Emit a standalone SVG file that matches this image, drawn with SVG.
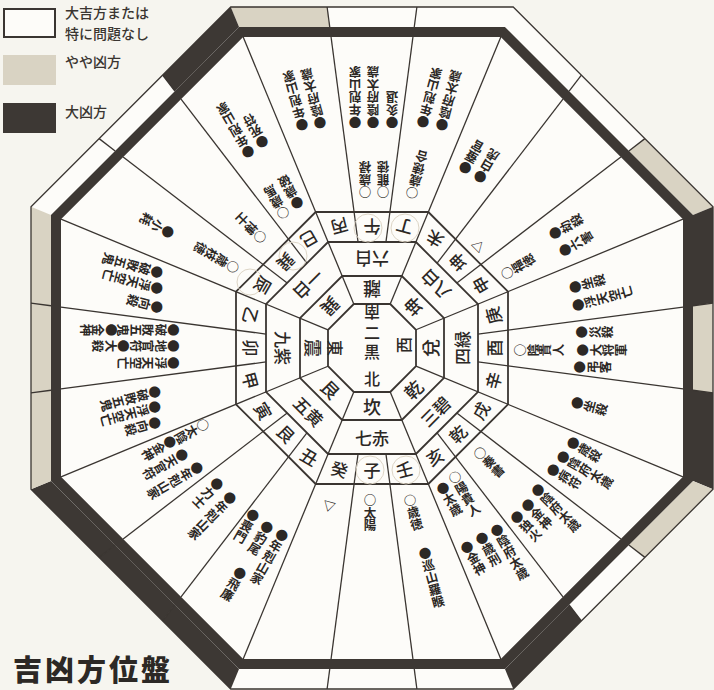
<svg xmlns="http://www.w3.org/2000/svg" xmlns:xlink="http://www.w3.org/1999/xlink" width="714" height="690" viewBox="0 0 714 690">
<defs>
<style>
.ln{fill:none;stroke:#3a3531;stroke-width:1.3}
.rg{fill:none;stroke:#3a3531;stroke-width:1.8}
.dk{fill:#3d3834}
.tn{fill:#d9d3c3}
.pc{fill:none;stroke:#ddd5c6;stroke-width:1}
.r{font-family:"Noto Sans CJK JP",sans-serif;font-weight:500;fill:#2c2825;text-anchor:middle;dominant-baseline:central}
.d{font-family:"Noto Sans CJK JP",sans-serif;font-weight:700;font-size:12.5px;fill:#2c2825;writing-mode:vertical-rl}
.lg{font-family:"Noto Sans CJK JP",sans-serif;font-weight:500;font-size:14px;fill:#3a3531}
</style>
<polygon id="sC" points="-42.26,321 42.26,321 44.89,341 -44.89,341"/>
<polygon id="sP" points="42.26,321 132.96,321 141.25,341 44.89,341"/>
<polygon id="sM" points="-42.26,321 -132.96,321 -141.25,341 -44.89,341"/>
<g id="rad">
<line x1="18.23" y1="44" x2="128.82" y2="311"/>
<line x1="13.96" y1="106" x2="40.94" y2="311"/>
<line x1="-13.96" y1="106" x2="-40.94" y2="311"/>
<line x1="42.26" y1="321" x2="44.89" y2="341"/>
<line x1="-42.26" y1="321" x2="-44.89" y2="341"/>
</g>
</defs>
<rect width="714" height="690" fill="#f6f5ef"/>
<g id="legend">
<rect x="4" y="9" width="51" height="28" fill="#fdfcf9" stroke="#3a3531" stroke-width="2"/>
<rect x="3" y="55" width="53" height="30" class="tn"/>
<rect x="3" y="103" width="53" height="30" class="dk"/>
<text class="lg" x="65" y="18">大吉方または</text>
<text class="lg" x="65" y="39">特に問題なし</text>
<text class="lg" x="65" y="67">やや凶方</text>
<text class="lg" x="65" y="117">大凶方</text>
</g>
<text x="13" y="681" font-family="Noto Sans CJK JP,sans-serif" font-weight="900" font-size="29" letter-spacing="3" fill="#2c2825">吉凶方位盤</text>
<g id="board" transform="translate(372,348)">
<polygon points="141.25,-341 341,-141.25 341,141.25 141.25,341 -141.25,341 -341,141.25 -341,-141.25 -141.25,-341" fill="#fdfcf9"/>
<g id="band">
<use xlink:href="#sP" class="tn" transform="rotate(180)"/>
<use xlink:href="#sM" class="tn" transform="rotate(-135)"/>
<use xlink:href="#sP" class="dk" transform="rotate(-90)"/>
<use xlink:href="#sC" class="tn" transform="rotate(-90)"/>
<use xlink:href="#sM" class="dk" transform="rotate(-90)"/>
<use xlink:href="#sP" class="tn" transform="rotate(-45)"/>
<use xlink:href="#sM" class="dk" transform="rotate(-45)"/>
<use xlink:href="#sP" class="dk" transform="rotate(45)"/>
<use xlink:href="#sC" class="dk" transform="rotate(45)"/>
<use xlink:href="#sM" class="dk" transform="rotate(45)"/>
<use xlink:href="#sP" class="tn" transform="rotate(90)"/>
<use xlink:href="#sC" class="tn" transform="rotate(90)"/>
<use xlink:href="#sM" class="tn" transform="rotate(90)"/>
<use xlink:href="#sM" class="dk" transform="rotate(135)"/>
<path class="dk" fill-rule="evenodd" d="M132.96,-321 L321,-132.96 L321,132.96 L132.96,321 L-132.96,321 L-321,132.96 L-321,-132.96 L-132.96,-321Z M128.82,-311 L311,-128.82 L311,128.82 L128.82,311 L-128.82,311 L-311,128.82 L-311,-128.82 L-128.82,-311Z"/>
</g>
<g id="connectors">
<polygon class="ln" points="141.25,-341 341,-141.25 341,141.25 141.25,341 -141.25,341 -341,141.25 -341,-141.25 -141.25,-341"/>
<polygon class="rg" points="56.33,-136 136,-56.33 136,56.33 56.33,136 -56.33,136 -136,56.33 -136,-56.33 -56.33,-136"/>
<polygon class="rg" points="43.91,-106 106,-43.91 106,43.91 43.91,106 -43.91,106 -106,43.91 -106,-43.91 -43.91,-106"/>
<polygon class="rg" points="29.82,-72 72,-29.82 72,29.82 29.82,72 -29.82,72 -72,29.82 -72,-29.82 -29.82,-72"/>
<polygon class="rg" points="18.23,-44 44,-18.23 44,18.23 18.23,44 -18.23,44 -44,18.23 -44,-18.23 -18.23,-44"/>
<use xlink:href="#rad" class="ln"/>
<use xlink:href="#rad" class="ln" transform="rotate(45)"/>
<use xlink:href="#rad" class="ln" transform="rotate(90)"/>
<use xlink:href="#rad" class="ln" transform="rotate(135)"/>
<use xlink:href="#rad" class="ln" transform="rotate(180)"/>
<use xlink:href="#rad" class="ln" transform="rotate(225)"/>
<use xlink:href="#rad" class="ln" transform="rotate(270)"/>
<use xlink:href="#rad" class="ln" transform="rotate(315)"/>
</g>
<g id="marks">
<circle class="pc" cx="-4" cy="-120" r="14"/>
<circle class="pc" cx="33" cy="-120" r="14"/>
<circle class="pc" cx="-2" cy="122" r="14"/>
<circle class="pc" cx="34" cy="122" r="14"/>
<circle class="pc" cx="-79" cy="-92" r="14"/>
<circle class="pc" cx="-122" cy="-66" r="13"/>
</g>
<g id="center">
<text class="r" font-size="16" transform="translate(0,-35) rotate(180)">南</text>
<text class="r" font-size="16" x="0" y="-4" letter-spacing="3" style="writing-mode:vertical-rl">二黒</text>
<text class="r" font-size="16" x="0" y="30">北</text>
<text class="r" font-size="16" transform="translate(-36,0) rotate(90)">東</text>
<text class="r" font-size="16" transform="translate(31,-3) rotate(-90)">西</text>
</g>
<g id="trigrams" font-size="18">
<text class="r" transform="rotate(180) translate(0,58)">離</text>
<text class="r" transform="rotate(-135) translate(0,58)">坤</text>
<text class="r" transform="rotate(-90) translate(0,58)">兌</text>
<text class="r" transform="rotate(-45) translate(0,58)">乾</text>
<text class="r" transform="translate(0,58)">坎</text>
<text class="r" transform="rotate(45) translate(0,58)">艮</text>
<text class="r" transform="rotate(90) translate(0,58)">震</text>
<text class="r" transform="rotate(135) translate(0,58)">巽</text>
</g>
<g id="stars" font-size="17">
<text class="r" transform="rotate(180) translate(0,89)">六白</text>
<text class="r" transform="rotate(-135) translate(0,89)">八白</text>
<text class="r" transform="rotate(-90) translate(0,89)">四緑</text>
<text class="r" transform="rotate(-45) translate(0,89)">三碧</text>
<text class="r" transform="translate(0,89)">七赤</text>
<text class="r" transform="rotate(45) translate(0,89)">五黄</text>
<text class="r" transform="rotate(90) translate(0,89)">九紫</text>
<text class="r" transform="rotate(135) translate(0,89)">一白</text>
</g>
<g id="mountains" font-size="17">
<text class="r" transform="rotate(180) translate(0,121)">午</text>
<text class="r" transform="rotate(-165) translate(0,125)">丁</text>
<text class="r" transform="rotate(-150) translate(0,125)">未</text>
<text class="r" transform="rotate(-135) translate(0,121)">坤</text>
<text class="r" transform="rotate(-120) translate(0,125)">申</text>
<text class="r" transform="rotate(-105) translate(0,125)">庚</text>
<text class="r" transform="rotate(-90) translate(0,121)">酉</text>
<text class="r" transform="rotate(-75) translate(0,125)">辛</text>
<text class="r" transform="rotate(-60) translate(0,125)">戌</text>
<text class="r" transform="rotate(-45) translate(0,121)">乾</text>
<text class="r" transform="rotate(-30) translate(0,125)">亥</text>
<text class="r" transform="rotate(-15) translate(0,125)">壬</text>
<text class="r" transform="translate(0,121)">子</text>
<text class="r" transform="rotate(15) translate(0,125)">癸</text>
<text class="r" transform="rotate(30) translate(0,125)">丑</text>
<text class="r" transform="rotate(45) translate(0,121)">艮</text>
<text class="r" transform="rotate(60) translate(0,125)">寅</text>
<text class="r" transform="rotate(75) translate(0,125)">甲</text>
<text class="r" transform="rotate(90) translate(0,121)">卯</text>
<text class="r" transform="rotate(105) translate(0,125)">乙</text>
<text class="r" transform="rotate(120) translate(0,125)">辰</text>
<text class="r" transform="rotate(135) translate(0,121)">巽</text>
<text class="r" transform="rotate(150) translate(0,125)">巳</text>
<text class="r" transform="rotate(165) translate(0,125)">丙</text>
</g>
</g>
<g id="deities">
<text class="d" transform="translate(355,122) rotate(180)" x="0" y="-6">●年剋山家</text>
<text class="d" transform="translate(373,122) rotate(180)" x="0" y="-6">●陰府太歳</text>
<text class="d" transform="translate(392,122) rotate(180)" x="0" y="-6">●灸退</text>
<text class="d" transform="translate(365,192) rotate(180)" x="0" y="-6">○歳禄</text>
<text class="d" transform="translate(383,192) rotate(180)" x="0" y="-6">○龍徳</text>
<text class="d" transform="translate(302,125) rotate(165)" x="0" y="-6">●年剋山家</text>
<text class="d" transform="translate(320,123) rotate(165)" x="0" y="-6">●陰府太歳</text>
<text class="d" transform="translate(423,122) rotate(-165)" x="0" y="-6">●年剋山家</text>
<text class="d" transform="translate(442,125) rotate(-165)" x="0" y="-6">●陰府太歳</text>
<text class="d" transform="translate(412,193) rotate(-165)" x="0" y="-6">○歳徳合</text>
<text class="d" transform="translate(248,152) rotate(150)" x="0" y="-6">●年剋山家</text>
<text class="d" transform="translate(262,142) rotate(150)" x="0" y="-6">●死符</text>
<text class="d" transform="translate(297,203) rotate(150)" x="0" y="-6">●歳破</text>
<text class="d" transform="translate(283,213) rotate(150)" x="0" y="-6">○歳馬</text>
<text class="d" transform="translate(465,168) rotate(-150)" x="0" y="-6">●蚕官</text>
<text class="d" transform="translate(480,177) rotate(-150)" x="0" y="-6">●白虎</text>
<text class="d" transform="translate(478,246) rotate(-135)" x="0" y="-6">▽</text>
<text class="d" transform="translate(555,233) rotate(-120)" x="0" y="-6">●劫殺</text>
<text class="d" transform="translate(565,250) rotate(-120)" x="0" y="-6">●六害</text>
<text class="d" transform="translate(507,273) rotate(-120)" x="0" y="-6">○福徳</text>
<text class="d" transform="translate(575,287) rotate(-105)" x="0" y="-6">●坐殺</text>
<text class="d" transform="translate(578,305) rotate(-105)" x="0" y="-6">●浮天空亡</text>
<text class="d" transform="translate(582,332) rotate(-90)" x="0" y="-6">●災殺</text>
<text class="d" transform="translate(583,350) rotate(-90)" x="0" y="-6">●大将軍</text>
<text class="d" transform="translate(580,367) rotate(-90)" x="0" y="-6">●弔客</text>
<text class="d" transform="translate(520,350) rotate(-90)" x="0" y="-6">○陰貴人</text>
<text class="d" transform="translate(577,403) rotate(-75)" x="0" y="-6">●坐殺</text>
<text class="d" transform="translate(573,443) rotate(-60)" x="0" y="-6">●歳殺</text>
<text class="d" transform="translate(563,457) rotate(-60)" x="0" y="-6">●陰府太歳</text>
<text class="d" transform="translate(553,470) rotate(-60)" x="0" y="-6">●病符</text>
<text class="d" transform="translate(538,490) rotate(-45)" x="0" y="-6">●陰府太歳</text>
<text class="d" transform="translate(528,505) rotate(-45)" x="0" y="-6">●金神</text>
<text class="d" transform="translate(517,517) rotate(-45)" x="0" y="-6">●独火</text>
<text class="d" transform="translate(480,453) rotate(-45)" x="0" y="-6">○奏書</text>
<text class="d" transform="translate(497,530) rotate(-30)" x="0" y="-6">●陰府太歳</text>
<text class="d" transform="translate(482,538) rotate(-30)" x="0" y="-6">●歳刑</text>
<text class="d" transform="translate(467,547) rotate(-30)" x="0" y="-6">●金神</text>
<text class="d" transform="translate(455,477) rotate(-30)" x="0" y="-6">○陽貴人</text>
<text class="d" transform="translate(443,488) rotate(-30)" x="0" y="-6">●太歳</text>
<text class="d" transform="translate(410,500) rotate(-15)" x="0" y="-6">○歳徳</text>
<text class="d" transform="translate(425,553) rotate(-15)" x="0" y="-6">●巡山羅睺</text>
<text class="d" transform="translate(370,500)" x="0" y="-6">○太陽</text>
<text class="d" transform="translate(329,506) rotate(15)" x="0" y="-6">▽</text>
<text class="d" transform="translate(282,535) rotate(30)" x="0" y="-6">●年剋山家</text>
<text class="d" transform="translate(267,527) rotate(30)" x="0" y="-6">●豹尾</text>
<text class="d" transform="translate(253,515) rotate(30)" x="0" y="-6">●喪門</text>
<text class="d" transform="translate(240,573) rotate(30)" x="0" y="-6">●飛廉</text>
<text class="d" transform="translate(230,498) rotate(45)" x="0" y="-6">●年剋山家</text>
<text class="d" transform="translate(217,484) rotate(45)" x="0" y="-6">●力士</text>
<text class="d" transform="translate(197,468) rotate(60)" x="0" y="-6">●年剋山家</text>
<text class="d" transform="translate(182,455) rotate(60)" x="0" y="-6">●天官符</text>
<text class="d" transform="translate(170,442) rotate(60)" x="0" y="-6">●金神</text>
<text class="d" transform="translate(203,425) rotate(60)" x="0" y="-6">○太陰</text>
<text class="d" transform="translate(155,392) rotate(75)" x="0" y="-6">●破敗五鬼</text>
<text class="d" transform="translate(155,407) rotate(75)" x="0" y="-6">●浮天空亡</text>
<text class="d" transform="translate(155,423) rotate(75)" x="0" y="-6">●向殺</text>
<text class="d" transform="translate(173,330) rotate(90)" x="0" y="-6">●破敗五鬼●金神</text>
<text class="d" transform="translate(173,346) rotate(90)" x="0" y="-6">●地官符●大殺</text>
<text class="d" transform="translate(173,363) rotate(90)" x="0" y="-6">●浮天空亡</text>
<text class="d" transform="translate(157,272) rotate(105)" x="0" y="-6">●破敗五鬼</text>
<text class="d" transform="translate(157,288) rotate(105)" x="0" y="-6">●浮天空亡</text>
<text class="d" transform="translate(157,307) rotate(105)" x="0" y="-6">●向殺</text>
<text class="d" transform="translate(168,232) rotate(120)" x="0" y="-6">●小耗</text>
<text class="d" transform="translate(233,267) rotate(120)" x="0" y="-6">○歳枝徳</text>
<text class="d" transform="translate(260,237) rotate(135)" x="0" y="-6">○博士</text>
</g>
</svg>
